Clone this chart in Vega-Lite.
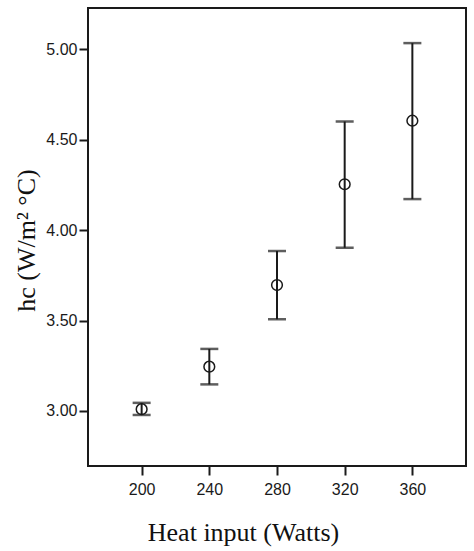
{
  "$schema": "https://vega.github.io/schema/vega-lite/v6.json",
  "width": 378,
  "height": 458,
  "autosize": {"type": "none"},
  "padding": {"left": 88, "top": 8, "right": 8, "bottom": 85},
  "background": "white",
  "config": {
    "view": {"stroke": "#1a1a1a", "strokeWidth": 2},
    "axis": {
      "grid": false,
      "domain": false,
      "tickColor": "#1a1a1a",
      "tickWidth": 2,
      "tickSize": 9,
      "labelFont": "Liberation Sans",
      "labelFontSize": 16,
      "labelColor": "#1a1a1a",
      "titleFont": "Liberation Serif",
      "titleFontSize": 26,
      "titleFontWeight": "normal",
      "titleColor": "#111111"
    }
  },
  "data": {
    "values": [
      {"heat": 200, "hc": 3.01, "lo": 2.978, "hi": 3.045},
      {"heat": 240, "hc": 3.245, "lo": 3.147, "hi": 3.343},
      {"heat": 280, "hc": 3.696, "lo": 3.507, "hi": 3.884},
      {"heat": 320, "hc": 4.253, "lo": 3.902, "hi": 4.6},
      {"heat": 360, "hc": 4.604, "lo": 4.171, "hi": 5.033}
    ]
  },
  "encoding": {
    "x": {
      "field": "heat",
      "type": "quantitative",
      "scale": {"domain": [168.3, 391.7], "nice": false, "zero": false},
      "axis": {
        "values": [200, 240, 280, 320, 360],
        "title": "Heat input (Watts)",
        "labelPadding": 6,
        "titlePadding": 22,
        "titleX": 155
      }
    }
  },
  "layer": [
    {
      "mark": {"type": "rule", "color": "#1a1a1a", "strokeWidth": 2},
      "encoding": {
        "y": {
          "field": "lo",
          "type": "quantitative",
          "scale": {"domain": [2.696, 5.227], "nice": false, "zero": false},
          "axis": {
            "values": [3, 3.5, 4, 4.5, 5],
            "format": ".2f",
            "title": "hc (W/m² °C)",
            "labelPadding": 2,
            "titlePadding": 6,
            "titleY": 232
          }
        },
        "y2": {"field": "hi"}
      }
    },
    {
      "mark": {"type": "tick", "orient": "horizontal", "color": "#1a1a1a", "size": 18, "thickness": 2.5},
      "encoding": {"y": {"field": "lo", "type": "quantitative"}}
    },
    {
      "mark": {"type": "tick", "orient": "horizontal", "color": "#1a1a1a", "size": 18, "thickness": 2.5},
      "encoding": {"y": {"field": "hi", "type": "quantitative"}}
    },
    {
      "mark": {"type": "point", "shape": "circle", "filled": false, "size": 115, "stroke": "#1a1a1a", "strokeWidth": 1.5, "fill": "white", "fillOpacity": 0, "opacity": 1},
      "encoding": {"y": {"field": "hc", "type": "quantitative"}}
    }
  ]
}
